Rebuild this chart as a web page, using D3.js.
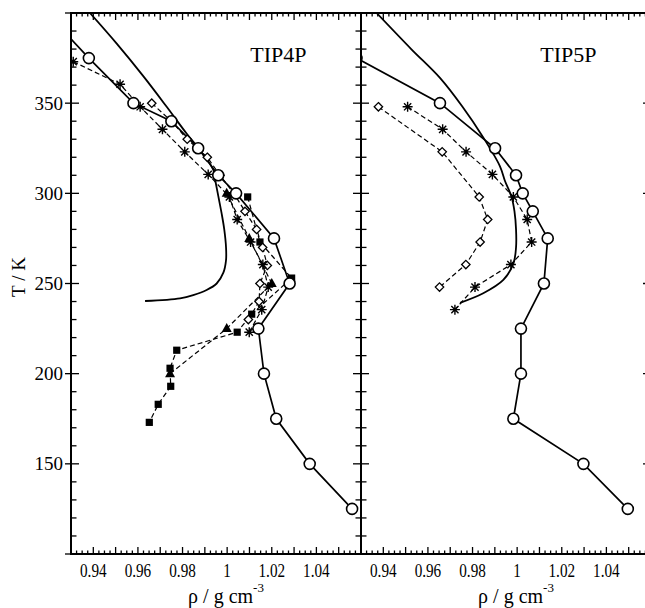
<!DOCTYPE html>
<html>
<head>
<meta charset="utf-8">
<script src="https://cdn.jsdelivr.net/npm/d3@7"></script>
<style>
  body { margin: 0; background: #fff; }
</style>
</head>
<body>
<svg width="645" height="608" font-family="'Liberation Serif', 'Times New Roman', Times, serif"></svg>
<script>
// values are [T (K), rho (g/cm3)]
var rhoTicks = [0.94, 0.96, 0.98, 1, 1.02, 1.04];
var tTicks = [150, 200, 250, 300, 350];

// TIP4P panel
var tip4pExp = [[400,0.9385],[383,0.9505],[365,0.9624],[348,0.9729],[333,0.9819],[324,0.9878],[313,0.9938],
  [307,0.9947],[298,0.9961],[289,0.9975],[280,0.9987],[270,0.9995],[263,0.9995],[256,0.9983],[250,0.9953],
  [246.4,0.9908],[243.6,0.9848],[241.8,0.9789],[240.3,0.9632]];
var tip4pCircles = [[400,0.919],[375,0.938],[350,0.958],[340,0.975],[325,0.987],[310,0.996],[300,1.004],
  [275,1.021],[250,1.028],[225,1.014],[200,1.0165],[175,1.022],[150,1.037],[125,1.056]];
var tip4pStars = [[373,0.931],[360.5,0.952],[348,0.961],[335.5,0.971],[323,0.981],[310.5,0.9915],[298,1.001],
  [285.5,1.0045],[273,1.0105],[260.5,1.016],[248,1.0184],[235.5,1.0155],[223,1.0099]];
var tip4pDiamonds = [[350,0.9662],[340,0.975],[330,0.9821],[320,0.9911],[310,0.9968],[300,1.003],[290,1.008],
  [280,1.0132],[270,1.0159],[260,1.018],[250,1.0147],[240,1.0143],[230,1.0095]];
var tip4pTriangles = [[300,0.9998],[275,1.0099],[250,1.02],[225,0.9998],[200,0.9744]];
var tip4pSquares = [[298,1.0092],[273,1.0147],[253,1.0289],[233,1.011],[223,1.0045],[213,0.9774],
  [203,0.9744],[193,0.9747],[183,0.9691],[173,0.9651]];

// TIP5P panel
var tip5pExp = [[400,0.937],[380,0.9525],[364,0.9654],[348,0.9755],[331,0.9848],[315,0.9923],[307,0.9945],
  [298,0.9975],[290,0.9988],[280,0.9995],[270,0.9995],[261,0.9983],[252,0.9938],[244.6,0.9848],[239.3,0.9744]];
var tip5pCircles = [[375,0.928],[350,0.9654],[325,0.9901],[310,0.9995],[300,1.0025],[290,1.007],[275,1.0137],
  [250,1.012],[225,1.0017],[200,1.0017],[175,0.9983],[150,1.0297],[125,1.0496]];
var tip5pStars = [[348,0.9509],[335.5,0.9666],[323,0.9771],[310.5,0.9889],[298,0.9983],[285.5,1.0045],
  [273,1.0065],[260.5,0.9972],[248,0.9811],[235.5,0.9721]];
var tip5pDiamonds = [[348,0.9378],[323,0.9664],[298,0.983],[285.5,0.9868],[273,0.9834],[260.5,0.977],[248,0.9652]];

var svg = d3.select('svg');
var plotTop = 13, plotBottom = 554, panelW = 290;

var y = d3.scaleLinear().domain([100, 400]).range([plotBottom, plotTop]);

var panels = [
  { id: 'p4', label: 'TIP4P', left: 71, exp: tip4pExp, circles: tip4pCircles, stars: tip4pStars,
    diamonds: tip4pDiamonds, triangles: tip4pTriangles, squares: tip4pSquares, yLabels: true },
  { id: 'p5', label: 'TIP5P', left: 361, exp: tip5pExp, circles: tip5pCircles, stars: tip5pStars,
    diamonds: tip5pDiamonds, triangles: [], squares: [], yLabels: false }
];

panels.forEach(drawPanel);

function drawPanel(p) {
  var x = d3.scaleLinear().domain([0.93, 1.06]).range([p.left, p.left + panelW]);
  var g = svg.append('g');

  g.append('clipPath').attr('id', 'clip-' + p.id)
    .append('rect')
      .attr('x', p.left).attr('y', plotTop)
      .attr('width', panelW).attr('height', plotBottom - plotTop);

  var data = g.append('g').attr('clip-path', 'url(#clip-' + p.id + ')');

  var line = d3.line()
      .x((d) => x(d[1]))
      .y((d) => y(d[0]));

  data.append('path')
      .datum(p.exp)
      .attr('d', line.curve(d3.curveCatmullRom.alpha(0.5)))
      .attr('fill', 'none')
      .attr('stroke', '#000')
      .attr('stroke-width', 1.8);
  line.curve(d3.curveLinear);

  [p.squares, p.triangles, p.diamonds, p.stars].forEach(function(s) {
    if (!s.length) return;
    data.append('path')
        .datum(s)
        .attr('d', line)
        .attr('fill', 'none')
        .attr('stroke', '#000')
        .attr('stroke-width', 1.2)
        .attr('stroke-dasharray', '5,3');
  });
  data.append('path')
      .datum(p.circles)
      .attr('d', line)
      .attr('fill', 'none')
      .attr('stroke', '#000')
      .attr('stroke-width', 1.7);

  function pos(d) { return 'translate(' + x(d[1]) + ',' + y(d[0]) + ')'; }

  data.selectAll('.sq')
    .data(p.squares)
    .enter().append('rect')
      .attr('class', 'sq')
      .attr('transform', pos)
      .attr('x', -3.6).attr('y', -3.6)
      .attr('width', 7.2).attr('height', 7.2)
      .attr('fill', '#000');

  data.selectAll('.tri')
    .data(p.triangles)
    .enter().append('path')
      .attr('class', 'tri')
      .attr('transform', pos)
      .attr('d', 'M0,-5.5L5,3.5L-5,3.5Z')
      .attr('fill', '#000');

  data.selectAll('.dia')
    .data(p.diamonds)
    .enter().append('path')
      .attr('class', 'dia')
      .attr('transform', pos)
      .attr('d', 'M0,-4.2L4.2,0L0,4.2L-4.2,0Z')
      .attr('fill', '#fff')
      .attr('stroke', '#000')
      .attr('stroke-width', 1.3);

  data.selectAll('.star')
    .data(p.stars)
    .enter().append('path')
      .attr('class', 'star')
      .attr('transform', pos)
      .attr('d', 'M-5,0L5,0M0,-5L0,5M-3.6,-3.6L3.6,3.6M-3.6,3.6L3.6,-3.6')
      .attr('stroke', '#000')
      .attr('stroke-width', 1.4);

  data.selectAll('.circ')
    .data(p.circles)
    .enter().append('circle')
      .attr('class', 'circ')
      .attr('cx', (d) => x(d[1]))
      .attr('cy', (d) => y(d[0]))
      .attr('r', 5.5)
      .attr('fill', '#fff')
      .attr('stroke', '#000')
      .attr('stroke-width', 1.6);

  // ticks
  var xt = d3.range(372, 425).map((i) => ({ v: i / 400, major: i % 4 === 0 }));
  var yt = d3.range(100, 401, 10).map((v) => ({ v: v, major: v % 50 === 0 }));
  var ax = g.append('g').attr('stroke', '#000').attr('stroke-width', 1.3);

  ax.selectAll('.xb').data(xt).enter().append('line')
      .attr('x1', (d) => x(d.v)).attr('x2', (d) => x(d.v))
      .attr('y1', plotBottom).attr('y2', (d) => plotBottom - (d.major ? 7 : 3.5));
  ax.selectAll('.xt').data(xt).enter().append('line')
      .attr('x1', (d) => x(d.v)).attr('x2', (d) => x(d.v))
      .attr('y1', plotTop).attr('y2', (d) => plotTop + (d.major ? 7 : 3.5));
  ax.selectAll('.yl').data(yt).enter().append('line')
      .attr('y1', (d) => y(d.v)).attr('y2', (d) => y(d.v))
      .attr('x1', (d) => p.left - (d.major && p.yLabels ? 6 : 0))
      .attr('x2', (d) => p.left + (d.major ? 8 : 5.5));
  ax.selectAll('.yr').data(yt).enter().append('line')
      .attr('y1', (d) => y(d.v)).attr('y2', (d) => y(d.v))
      .attr('x1', p.left + panelW)
      .attr('x2', (d) => p.left + panelW - (d.major ? 8 : 5.5));

  g.append('rect')
      .attr('x', p.left).attr('y', plotTop)
      .attr('width', panelW).attr('height', plotBottom - plotTop)
      .attr('fill', 'none')
      .attr('stroke', '#000')
      .attr('stroke-width', 2);

  g.selectAll('.xlab')
    .data(rhoTicks)
    .enter().append('text')
      .attr('transform', (d) => 'translate(' + x(d) + ',577) scale(0.8,1)')
      .attr('text-anchor', 'middle')
      .attr('font-size', 19)
      .text((d) => d);

  if (p.yLabels) {
    g.selectAll('.ylab')
      .data(tTicks)
      .enter().append('text')
        .attr('x', 63)
        .attr('y', (d) => y(d))
        .attr('dy', '0.34em')
        .attr('text-anchor', 'end')
        .attr('font-size', 19)
        .text((d) => d);
  }

  g.append('text')
      .attr('x', x(1.023))
      .attr('y', 62)
      .attr('text-anchor', 'middle')
      .attr('font-size', 22)
      .text(p.label);

  var t = g.append('text')
      .attr('x', x(0.9995))
      .attr('y', 603)
      .attr('text-anchor', 'middle')
      .attr('font-size', 20);
  t.append('tspan').text('\u03c1 / g cm');
  t.append('tspan').attr('dy', -11).attr('font-size', 13).text('-3');
}

svg.append('text')
    .attr('transform', 'translate(25,277) rotate(-90)')
    .attr('text-anchor', 'middle')
    .attr('font-size', 19)
    .text('T / K');
</script>
</body>
</html>
